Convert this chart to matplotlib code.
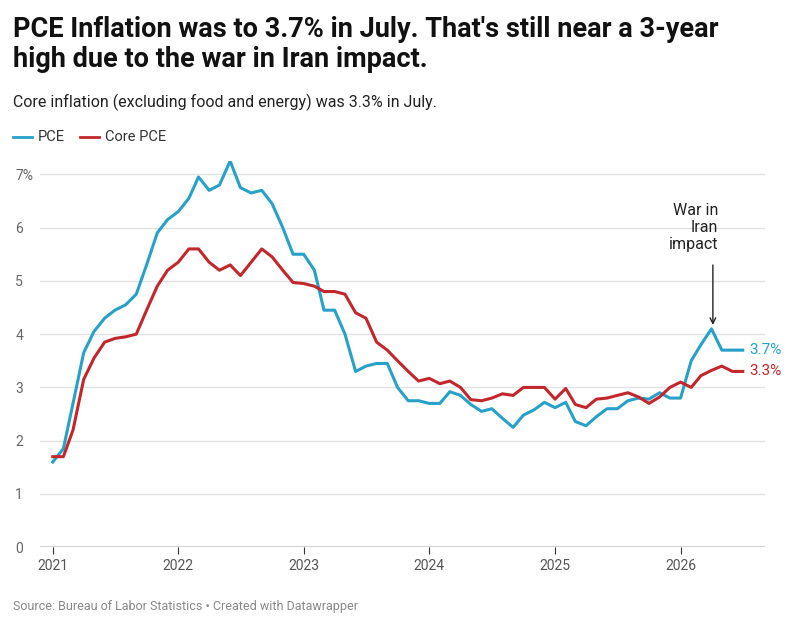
import numpy as np
import pandas as pd
import matplotlib.pyplot as plt

plt.rcParams['font.family'] = ['Roboto', 'DejaVu Sans']

# monthly values Jan 2021 - Jul 2026
pce = [1.6, 1.85, 2.7, 3.65, 4.05, 4.3, 4.45, 4.55, 4.75, 5.3, 5.9, 6.15,
       6.3, 6.55, 6.95, 6.7, 6.8, 7.25, 6.75, 6.65, 6.7, 6.45, 6.0, 5.5,
       5.5, 5.2, 4.45, 4.45, 4.0, 3.3, 3.4, 3.45, 3.45, 3.0, 2.75, 2.75,
       2.7, 2.7, 2.92, 2.85, 2.68, 2.55, 2.6, 2.42, 2.25, 2.48, 2.58, 2.72,
       2.62, 2.72, 2.36, 2.28, 2.45, 2.6, 2.6, 2.75, 2.8, 2.78, 2.9, 2.8,
       2.8, 3.5, 3.8, 4.1, 3.7, 3.7, 3.7]
core = [1.7, 1.7, 2.2, 3.15, 3.55, 3.85, 3.92, 3.95, 4.0, 4.45, 4.9, 5.2,
        5.35, 5.6, 5.6, 5.35, 5.2, 5.3, 5.1, 5.35, 5.6, 5.45, 5.2, 4.97,
        4.95, 4.9, 4.8, 4.8, 4.75, 4.4, 4.3, 3.85, 3.7, 3.5, 3.3, 3.12,
        3.17, 3.07, 3.12, 3.0, 2.77, 2.75, 2.8, 2.88, 2.85, 3.0, 3.0, 3.0,
        2.78, 2.98, 2.68, 2.62, 2.78, 2.8, 2.85, 2.9, 2.82, 2.7, 2.82, 3.0,
        3.1, 3.0, 3.22, 3.32, 3.4, 3.3, 3.3]
dates = pd.date_range('2021-01-01', periods=len(pce), freq='MS')

blue = '#27a1c8'
red = '#c1272d'

fig = plt.figure(figsize=(8, 6.29), dpi=100)
ax = fig.add_axes([0.05, 0.13, 0.906, 0.614])

ax.plot(dates, pce, color=blue, lw=2.2)
ax.plot(dates, core, color=red, lw=2.2)

ax.set_ylim(0, 7.25)
ax.set_xlim(pd.Timestamp('2020-11-25'), pd.Timestamp('2026-09-03'))
ax.set_yticks(range(8))
ax.set_yticklabels(['0', '1', '2', '3', '4', '5', '6', '7%'])
years = [pd.Timestamp(f'{y}-01-01') for y in range(2021, 2027)]
ax.set_xticks(years)
ax.set_xticklabels([str(y) for y in range(2021, 2027)])
ax.grid(axis='y', color='#e2e2e2', lw=1)
ax.set_axisbelow(True)
for s in ax.spines.values():
    s.set_visible(False)
ax.axhline(0, color='#333333', lw=1)
ax.tick_params(axis='y', length=0, pad=-2, labelcolor='#666666', labelsize=10)
for lab in ax.get_yticklabels():
    lab.set_horizontalalignment('left')
    lab.set_x(-0.038)
ax.tick_params(axis='x', length=5, color='#333333', labelcolor='#555555', labelsize=10)

# end labels
ax.text(dates[-1] + pd.Timedelta(days=20), pce[-1], '3.7%', color=blue,
        fontsize=11, va='center')
ax.text(dates[-1] + pd.Timedelta(days=20), core[-1], '3.3%', color=red,
        fontsize=11, va='center')

# annotation
ax.annotate('', xy=(pd.Timestamp('2026-04-05'), 4.12),
            xytext=(pd.Timestamp('2026-04-05'), 5.35),
            arrowprops=dict(arrowstyle='->', color='#222222', lw=1))
ax.text(pd.Timestamp('2026-04-20'), 5.55, 'War in\nIran\nimpact', ha='right',
        va='bottom', fontsize=11.5, color='#222222', linespacing=1.15)

fig.text(0.016, 0.975, "PCE Inflation was to 3.7% in July. That's still near a 3-year\n"
         "high due to the war in Iran impact.", fontsize=19.5, fontweight='bold',
         va='top', color='#111111', linespacing=1.15)
fig.text(0.016, 0.838, 'Core inflation (excluding food and energy) was 3.3% in July.',
         fontsize=11.5, va='center', color='#222222')

# legend
fig.lines.append(plt.Line2D([0.016, 0.04], [0.782, 0.782], color=blue, lw=2,
                            transform=fig.transFigure))
fig.text(0.047, 0.782, 'PCE', fontsize=10.5, va='center', color='#333333')
fig.lines.append(plt.Line2D([0.1, 0.124], [0.782, 0.782], color=red, lw=2,
                            transform=fig.transFigure))
fig.text(0.131, 0.782, 'Core PCE', fontsize=10.5, va='center', color='#333333')

fig.text(0.016, 0.035, 'Source: Bureau of Labor Statistics • Created with Datawrapper',
         fontsize=9, color='#888888', va='center')

fig.savefig('out.png', dpi=100)
